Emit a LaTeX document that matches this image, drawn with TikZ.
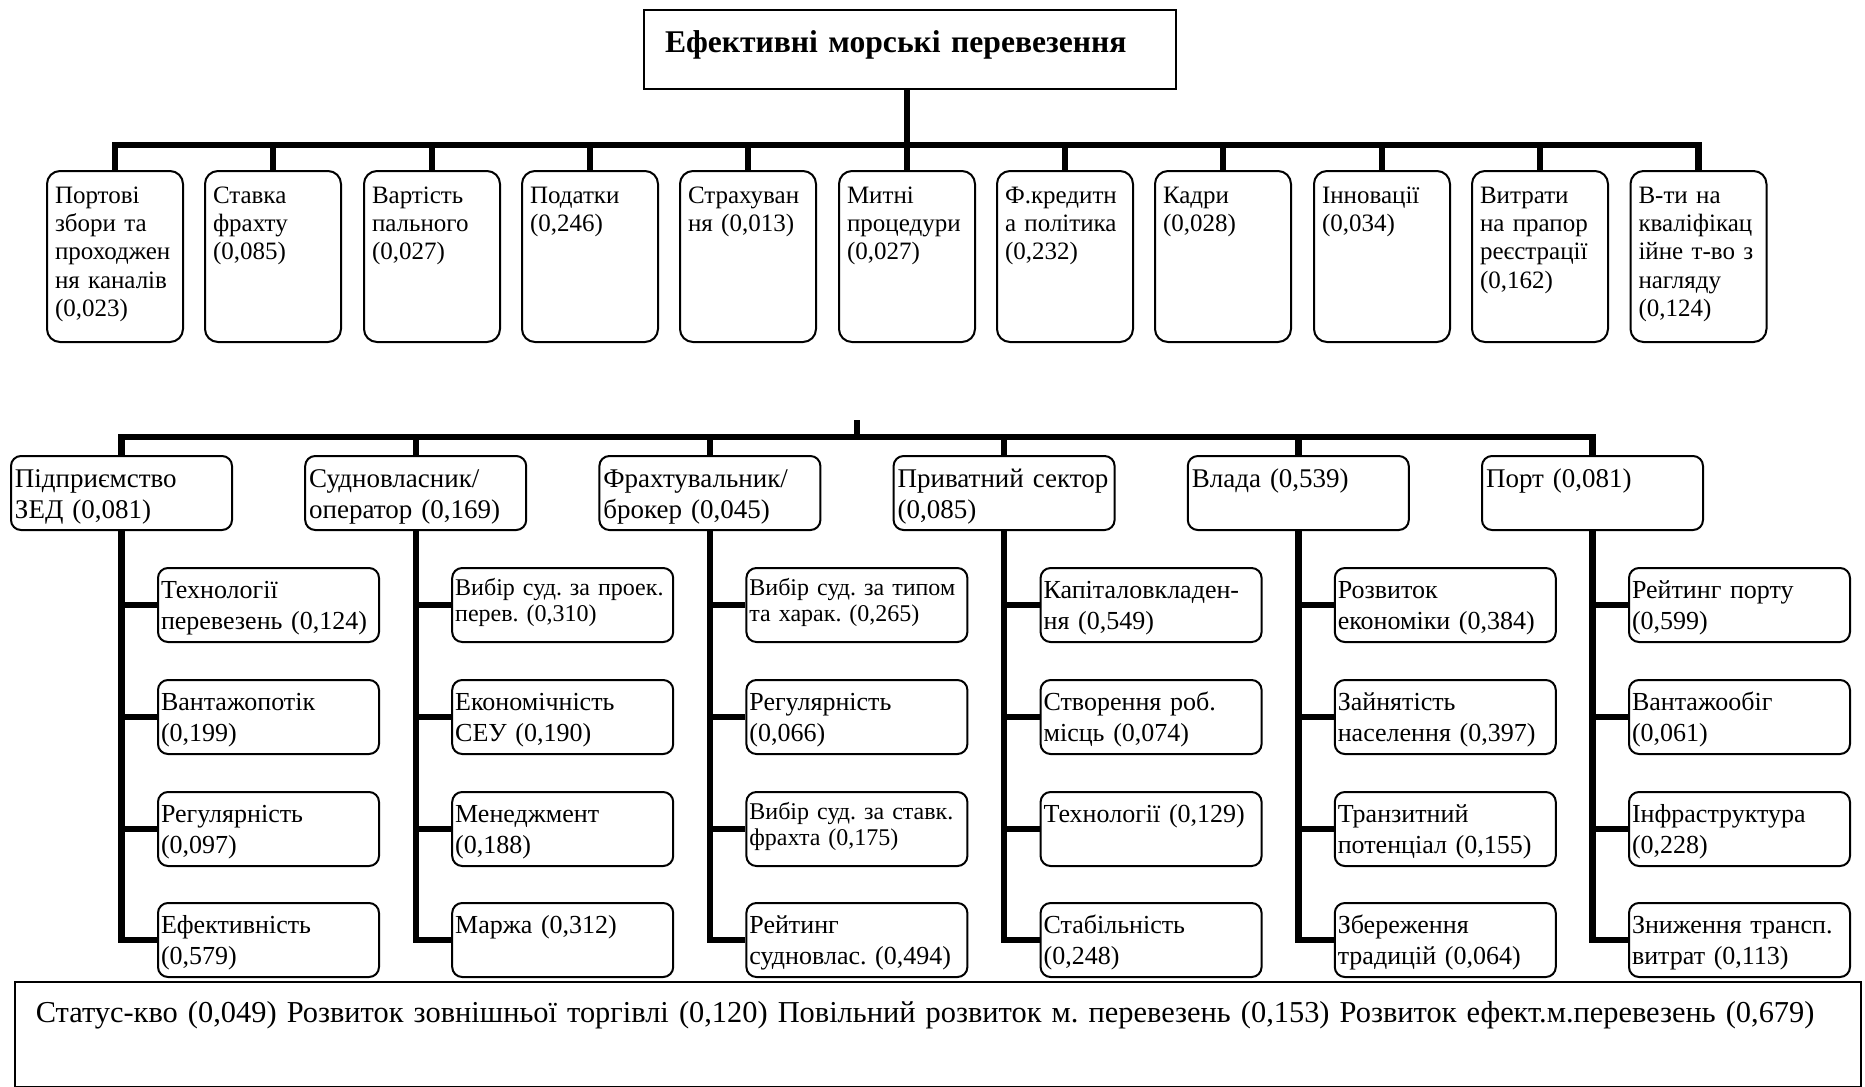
\documentclass[tikz,border=0pt]{standalone}
\usepackage{fontspec}
\setmainfont{Liberation Serif}
\frenchspacing

\begin{document}
\begin{tikzpicture}[x=0.5pt,y=-0.5pt,
  headbox/.style={draw,line width=0.8pt,anchor=north,inner xsep=10.5pt,inner ysep=0pt,
    text width=245pt,align=left,text height=21.5pt,text depth=18pt,
    font=\fontsize{15.8}{18}\selectfont\bfseries},
  factorbox/.style={draw,line width=1pt,rounded corners=6.5pt,anchor=north,
    inner xsep=4pt,inner ysep=0pt,text width=60pt,align=left,
    text height=16pt,text depth=69.5pt,font=\fontsize{12.5}{14.2}\selectfont},
  actorbox/.style={draw,line width=1pt,rounded corners=5pt,anchor=north,
    inner xsep=2pt,inner ysep=0pt,text width=106.5pt,align=left,
    text height=15.5pt,text depth=21.5pt,font=\fontsize{13.5}{15.5}\selectfont},
  critbox/.style={actorbox,inner xsep=1.5pt,text width=107.5pt,text height=15pt,
    text depth=22pt,font=\fontsize{13}{15.5}\selectfont},
  critsmall/.style={critbox,text height=13.5pt,text depth=23.5pt,
    font=\fontsize{12}{13}\selectfont},
  scenbox/.style={draw,line width=0.8pt,anchor=north west,inner xsep=10.5pt,inner ysep=0pt,
    text width=902pt,align=left,text height=20.5pt,text depth=32pt,
    font=\fontsize{15.2}{18}\selectfont},
  bus/.style={line width=3.2pt}
]
  \useasboundingbox (0,0) rectangle (1865,1087);

  % goal
  \node[headbox] (head) at (910,9) {Ефективні морські перевезення};

  % factors
  \node[factorbox] (f1) at (115,170) {Портові\\збори та\\проходжен\\ня каналів\\(0,023)};
  \node[factorbox] (f2) at (273,170) {Ставка\\фрахту\\(0,085)};
  \node[factorbox] (f3) at (432,170) {Вартість\\пального\\(0,027)};
  \node[factorbox] (f4) at (590,170) {Податки\\(0,246)};
  \node[factorbox] (f5) at (748,170) {Страхуван\\ня (0,013)};
  \node[factorbox] (f6) at (907,170) {Митні\\процедури\\(0,027)};
  \node[factorbox] (f7) at (1065,170) {Ф.кредитн\\а політика\\(0,232)};
  \node[factorbox] (f8) at (1223,170) {Кадри\\(0,028)};
  \node[factorbox] (f9) at (1382,170) {Інновації\\(0,034)};
  \node[factorbox] (f10) at (1540,170) {Витрати\\на прапор\\реєстрації\\(0,162)};
  \node[factorbox] (f11) at (1698.5,170) {В-ти на\\кваліфікац\\ійне т-во з\\нагляду\\(0,124)};

  % actors
  \node[actorbox] (a1) at (121.5,455) {Підприємство\\ЗЕД (0,081)};
  \node[actorbox] (a2) at (415.7,455) {Судновласник/\\оператор (0,169)};
  \node[actorbox] (a3) at (709.9,455) {Фрахтувальник/\\брокер (0,045)};
  \node[actorbox] (a4) at (1004.1,455) {Приватний сектор\\(0,085)};
  \node[actorbox] (a5) at (1298.3,455) {Влада (0,539)};
  \node[actorbox] (a6) at (1592.5,455) {Порт (0,081)};

  % criteria
  \node[critbox] (a1c1) at (268.5,567) {Технології\\перевезень (0,124)};
  \node[critbox] (a1c2) at (268.5,679) {Вантажопотік\\(0,199)};
  \node[critbox] (a1c3) at (268.5,791) {Регулярність\\(0,097)};
  \node[critbox] (a1c4) at (268.5,902) {Ефективність\\(0,579)};
  \node[critsmall] (a2c1) at (562.7,567) {Вибір суд. за проек.\\перев. (0,310)};
  \node[critbox] (a2c2) at (562.7,679) {Економічність\\СЕУ (0,190)};
  \node[critbox] (a2c3) at (562.7,791) {Менеджмент\\(0,188)};
  \node[critbox] (a2c4) at (562.7,902) {Маржа (0,312)};
  \node[critsmall] (a3c1) at (856.9,567) {Вибір суд. за типом\\та харак. (0,265)};
  \node[critbox] (a3c2) at (856.9,679) {Регулярність\\(0,066)};
  \node[critsmall] (a3c3) at (856.9,791) {Вибір суд. за ставк.\\фрахта (0,175)};
  \node[critbox] (a3c4) at (856.9,902) {Рейтинг\\судновлас. (0,494)};
  \node[critbox] (a4c1) at (1151.1,567) {Капіталовкладен-\\ня (0,549)};
  \node[critbox] (a4c2) at (1151.1,679) {Створення роб.\\місць (0,074)};
  \node[critbox] (a4c3) at (1151.1,791) {Технології (0,129)};
  \node[critbox] (a4c4) at (1151.1,902) {Стабільність\\(0,248)};
  \node[critbox] (a5c1) at (1445.3,567) {Розвиток\\економіки (0,384)};
  \node[critbox] (a5c2) at (1445.3,679) {Зайнятість\\населення (0,397)};
  \node[critbox] (a5c3) at (1445.3,791) {Транзитний\\потенціал (0,155)};
  \node[critbox] (a5c4) at (1445.3,902) {Збереження\\традицій (0,064)};
  \node[critbox] (a6c1) at (1739.5,567) {Рейтинг порту\\(0,599)};
  \node[critbox] (a6c2) at (1739.5,679) {Вантажообіг\\(0,061)};
  \node[critbox] (a6c3) at (1739.5,791) {Інфраструктура\\(0,228)};
  \node[critbox] (a6c4) at (1739.5,902) {Зниження трансп.\\витрат (0,113)};

  % scenarios
  \node[scenbox] (scen) at (14,981) {Статус-кво (0,049) Розвиток зовнішньої торгівлі (0,120) Повільний розвиток м. перевезень (0,153) Розвиток ефект.м.перевезень (0,679)};

  % connectors
  \coordinate (hub1) at (907,145);
  \coordinate (hub2) at (857,437);
  \coordinate (stub) at (857,420);
  \draw[bus] (head.south -| hub1) -- (hub1);
  \draw[bus] (f1.north) |- (hub1) -| (f11.north);
  \draw[bus] (f2.north) -- (f2.north |- hub1) (f3.north) -- (f3.north |- hub1)
    (f4.north) -- (f4.north |- hub1) (f5.north) -- (f5.north |- hub1)
    (f6.north) -- (f6.north |- hub1) (f7.north) -- (f7.north |- hub1)
    (f8.north) -- (f8.north |- hub1) (f9.north) -- (f9.north |- hub1)
    (f10.north) -- (f10.north |- hub1);
  \draw[bus] (stub) -- (hub2);
  \draw[bus] (a1.north) |- (hub2) -| (a6.north);
  \draw[bus] (a2.north) -- (a2.north |- hub2) (a3.north) -- (a3.north |- hub2)
    (a4.north) -- (a4.north |- hub2) (a5.north) -- (a5.north |- hub2);
  \draw[bus] (a1.south) |- (a1c4.west) (a1.south |- a1c1.west) -- (a1c1.west)
    (a1.south |- a1c2.west) -- (a1c2.west) (a1.south |- a1c3.west) -- (a1c3.west);
  \draw[bus] (a2.south) |- (a2c4.west) (a2.south |- a2c1.west) -- (a2c1.west)
    (a2.south |- a2c2.west) -- (a2c2.west) (a2.south |- a2c3.west) -- (a2c3.west);
  \draw[bus] (a3.south) |- (a3c4.west) (a3.south |- a3c1.west) -- (a3c1.west)
    (a3.south |- a3c2.west) -- (a3c2.west) (a3.south |- a3c3.west) -- (a3c3.west);
  \draw[bus] (a4.south) |- (a4c4.west) (a4.south |- a4c1.west) -- (a4c1.west)
    (a4.south |- a4c2.west) -- (a4c2.west) (a4.south |- a4c3.west) -- (a4c3.west);
  \draw[bus] (a5.south) |- (a5c4.west) (a5.south |- a5c1.west) -- (a5c1.west)
    (a5.south |- a5c2.west) -- (a5c2.west) (a5.south |- a5c3.west) -- (a5c3.west);
  \draw[bus] (a6.south) |- (a6c4.west) (a6.south |- a6c1.west) -- (a6c1.west)
    (a6.south |- a6c2.west) -- (a6c2.west) (a6.south |- a6c3.west) -- (a6c3.west);
\end{tikzpicture}
\end{document}
